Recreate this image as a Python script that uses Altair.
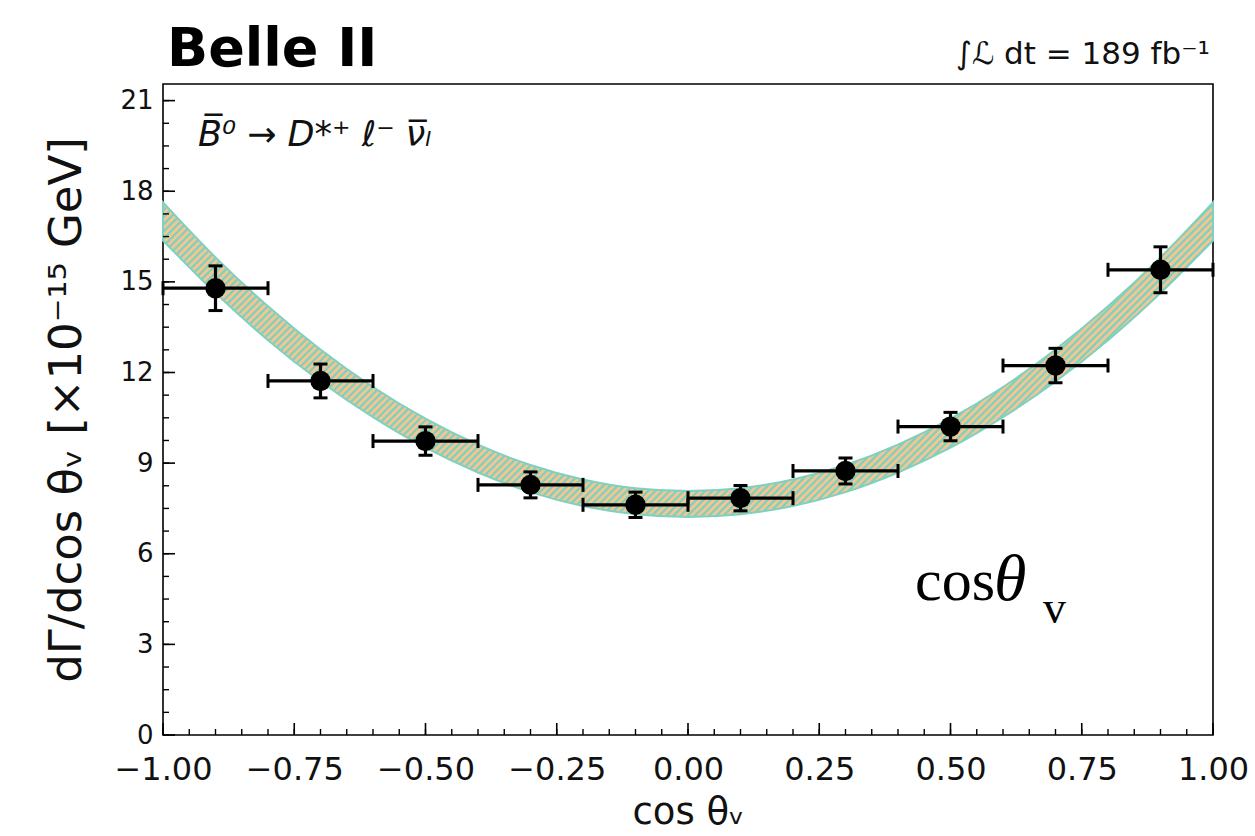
import altair as alt
import pandas as pd

# ---------------- data ----------------
bin_centers = [-0.9, -0.7, -0.5, -0.3, -0.1, 0.1, 0.3, 0.5, 0.7, 0.9]
bin_half_width = [0.1, 0.1, 0.1, 0.1, 0.1, 0.1, 0.1, 0.1, 0.1, 0.1]
rate = [14.79, 11.72, 9.73, 8.28, 7.62, 7.84, 8.74, 10.21, 12.23, 15.40]
rate_err = [0.74, 0.56, 0.47, 0.43, 0.42, 0.42, 0.43, 0.47, 0.57, 0.76]

band_cos = [-1.0, -0.9, -0.8, -0.7, -0.6, -0.5, -0.4, -0.3, -0.2, -0.1, 0.0,
            0.1, 0.2, 0.3, 0.4, 0.5, 0.6, 0.7, 0.8, 0.9, 1.0]
band_low = [16.37, 14.63, 13.07, 11.70, 10.52, 9.51, 8.69, 8.04, 7.58, 7.31, 7.22,
            7.31, 7.58, 8.04, 8.69, 9.51, 10.52, 11.70, 13.07, 14.63, 16.37]
band_high = [17.63, 15.81, 14.19, 12.76, 11.52, 10.47, 9.61, 8.94, 8.46, 8.17, 8.08,
             8.17, 8.46, 8.94, 9.61, 10.47, 11.52, 12.76, 14.19, 15.81, 17.63]

y_major = [0, 3, 6, 9, 12, 15, 18, 21]
x_major = [-1.0, -0.75, -0.5, -0.25, 0.0, 0.25, 0.5, 0.75, 1.0]
y_minor = [round(0.75 * i, 2) for i in range(29)]
x_minor = [round(-1 + 0.05 * i, 2) for i in range(41)]

title_exp = "Belle II"
lumi_text = "∫ℒ dt = 189 fb⁻¹"
decay_text = "B̅⁰ → D*⁺ ℓ⁻ ν̅ₗ"
y_title = "dΓ/dcos θᵥ [×10⁻¹⁵ GeV]"
x_title = "cos θᵥ"

# ---------------- layout / style ----------------
W, H = 1050, 651
FONT = "DejaVu Sans"
TEAL = "#7fd0c0"
TAN = "#f3c690"

xs = alt.Scale(domain=[-1, 1], nice=False, zero=False)
ys = alt.Scale(domain=[0, 21.55], nice=False, zero=False)

pts = pd.DataFrame({"x": bin_centers, "hw": bin_half_width, "y": rate, "e": rate_err})
pts["xlo"] = pts["x"] - pts["hw"]
pts["xhi"] = pts["x"] + pts["hw"]
pts["ylo"] = pts["y"] - pts["e"]
pts["yhi"] = pts["y"] + pts["e"]

band = pd.DataFrame({"x": band_cos, "lo": band_low, "hi": band_high})

# hatch-like stripes via a striped linear gradient
N = 160
stops = []
for k in range(N):
    stops.append(alt.GradientStop(color=TEAL, offset=k / N))
    stops.append(alt.GradientStop(color=TEAL, offset=(k + 0.28) / N))
    stops.append(alt.GradientStop(color=TAN, offset=(k + 0.45) / N))
    stops.append(alt.GradientStop(color=TAN, offset=(k + 0.85) / N))
stops.append(alt.GradientStop(color=TEAL, offset=1.0))
hatch = alt.Gradient(gradient="linear", stops=stops, x1=0, y1=0, x2=1, y2=0.299)

x_axis = alt.Axis(values=x_major, format=".2f", ticks=False, domain=False, grid=False,
                  labelFont=FONT, labelFontSize=32, labelColor="#111", labelPadding=19,
                  labelFlush=False, labelOverlap=False,
                  title=x_title, titleFont=FONT, titleFontSize=37, titleFontWeight="normal",
                  titleColor="#111", titlePadding=9)
y_axis = alt.Axis(values=y_major, ticks=False, domain=False, grid=False,
                  labelFont=FONT, labelFontSize=26, labelColor="#111", labelPadding=10,
                  labelFlush=False, labelOverlap=False,
                  title=y_title, titleFont=FONT, titleFontSize=45, titleFontWeight="normal",
                  titleColor="#111", titlePadding=30)


def X(field):
    return alt.X(field, scale=xs, axis=x_axis)


def Y(field):
    return alt.Y(field, scale=ys, axis=y_axis)


band_layer = alt.Chart(band).mark_area(
    fill=hatch, stroke=TEAL, strokeWidth=2, interpolate="monotone"
).encode(x=X("x:Q"), y=Y("lo:Q"), y2="hi:Q")

xerr = alt.Chart(pts).mark_rule(color="black", strokeWidth=3.2).encode(
    x=X("xlo:Q"), x2="xhi:Q", y=Y("y:Q"))
yerr = alt.Chart(pts).mark_rule(color="black", strokeWidth=3.2).encode(
    x=X("x:Q"), y=Y("ylo:Q"), y2="yhi:Q")
tick_style = dict(color="black", size=14, thickness=3, opacity=1)
cap_xlo = alt.Chart(pts).mark_tick(orient="vertical", **tick_style).encode(x=X("xlo:Q"), y=Y("y:Q"))
cap_xhi = alt.Chart(pts).mark_tick(orient="vertical", **tick_style).encode(x=X("xhi:Q"), y=Y("y:Q"))
cap_ylo = alt.Chart(pts).mark_tick(orient="horizontal", **tick_style).encode(x=X("x:Q"), y=Y("ylo:Q"))
cap_yhi = alt.Chart(pts).mark_tick(orient="horizontal", **tick_style).encode(x=X("x:Q"), y=Y("yhi:Q"))
markers = alt.Chart(pts).mark_point(shape="circle", filled=True, color="black", size=415, opacity=1).encode(
    x=X("x:Q"), y=Y("y:Q"))

# inward ticks
ytick_major = alt.Chart(pd.DataFrame({"v": y_major})).mark_rule(color="black", strokeWidth=1.6).encode(
    y=Y("v:Q"), x=alt.value(0), x2=alt.value(12))
ytick_minor = alt.Chart(pd.DataFrame({"v": y_minor})).mark_rule(color="black", strokeWidth=1.4).encode(
    y=Y("v:Q"), x=alt.value(0), x2=alt.value(6))
xtick_major = alt.Chart(pd.DataFrame({"v": x_major})).mark_rule(color="black", strokeWidth=1.6).encode(
    x=X("v:Q"), y=alt.value(H), y2=alt.value(H - 12))
xtick_minor = alt.Chart(pd.DataFrame({"v": x_minor})).mark_rule(color="black", strokeWidth=1.4).encode(
    x=X("v:Q"), y=alt.value(H), y2=alt.value(H - 6))


def label(text, x, y, size, font=FONT, weight="normal", style="normal", align="left", color="#111"):
    return alt.Chart(pd.DataFrame({"t": [text]})).mark_text(
        font=font, fontSize=size, fontWeight=weight, fontStyle=style, align=align,
        baseline="alphabetic", color=color
    ).encode(text="t:N", x=alt.value(x), y=alt.value(y))


t_belle = label(title_exp, 4, -18, 54, weight="bold", color="black")
t_lumi = label(lumi_text, 1047, -20, 31, align="right")
t_decay = label(decay_text, 35, 62, 35, style="italic")
t_cos = label("cos", 752, 516, 60, font="Liberation Serif", color="black")
t_theta = label("θ", 831, 516, 66, font="Liberation Serif", style="italic", color="black")
t_v = label("v", 880, 539, 46, font="Liberation Serif", color="black")

chart = alt.layer(
    band_layer, xerr, yerr, cap_xlo, cap_xhi, cap_ylo, cap_yhi, markers,
    ytick_major, ytick_minor, xtick_major, xtick_minor,
    t_belle, t_lumi, t_decay, t_cos, t_theta, t_v,
).properties(
    width=W, height=H,
    autosize=alt.AutoSizeParams(type="none"),
    padding={"left": 163, "top": 84, "right": 42, "bottom": 101},
    background="white",
).configure_view(stroke="black", strokeWidth=1.6)

chart.save("out.html", embed_options={"renderer": "svg", "actions": False})
